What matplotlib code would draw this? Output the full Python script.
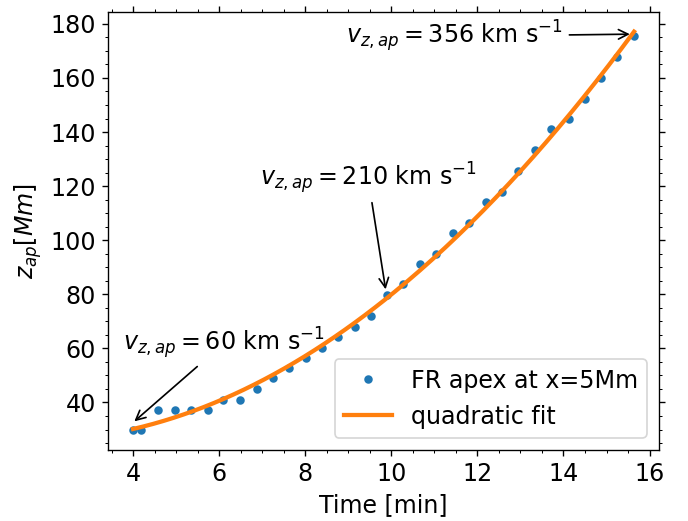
import numpy as np
import matplotlib
matplotlib.use('Agg')
import matplotlib.pyplot as plt

# FR apex height vs time
time_min = [4.00, 4.19, 4.58, 4.97, 5.35, 5.73, 6.10, 6.48, 6.87, 7.25,
            7.63, 8.01, 8.39, 8.77, 9.15, 9.53, 9.91, 10.28, 10.67, 11.05,
            11.43, 11.81, 12.19, 12.58, 12.95, 13.33, 13.72, 14.12, 14.50,
            14.87, 15.25, 15.64]
z_apex = [29.8, 29.8, 37.4, 37.4, 37.4, 37.4, 41.1, 41.1, 45.1, 48.9,
          52.6, 56.4, 60.3, 64.1, 67.9, 71.9, 79.8, 83.7, 91.1, 95.0,
          102.6, 106.4, 114.2, 117.9, 125.7, 133.3, 141.0, 144.7, 152.4,
          160.0, 167.8, 175.4]

# velocity labels, where the arrows point and where the text sits
labels = [r'$v_{z, ap} = 60$ km s$^{-1}$',
          r'$v_{z, ap} = 210$ km s$^{-1}$',
          r'$v_{z, ap} = 356$ km s$^{-1}$']
label_xy = [(3.97, 32.2), (9.88, 80.6), (15.62, 176.2)]
label_pos = [(6.12, 62.0), (9.46, 123.0), (11.46, 175.4)]

t = np.array(time_min)
z = np.array(z_apex)

coef = np.polyfit(t, z, 2)
t_fit = np.linspace(t.min(), t.max(), 200)
z_fit = np.polyval(coef, t_fit)

plt.rcParams['font.size'] = 14

dpi = 122
fig, ax = plt.subplots(figsize=(688 / dpi, 521 / dpi), dpi=dpi)
fig.subplots_adjust(left=0.157, right=0.958, top=0.9775, bottom=0.1363)

ax.plot(t, z, 'o', color='C0', markersize=4, label='FR apex at x=5Mm')
ax.plot(t_fit, z_fit, color='C1', lw=2.5, label='quadratic fit')

for lab, xy, pos in zip(labels, label_xy, label_pos):
    ax.annotate(lab, xy=xy, xytext=pos, ha='center', va='center',
                fontsize=14, arrowprops=dict(arrowstyle='->', color='k'))

ax.set_xlabel('Time [min]')
ax.set_ylabel(r'$z_{ap} [Mm]$')
ax.minorticks_on()
ax.tick_params(which='both', top=True, right=True)
ax.legend(loc='lower right')

plt.savefig('out.png', dpi=dpi)
